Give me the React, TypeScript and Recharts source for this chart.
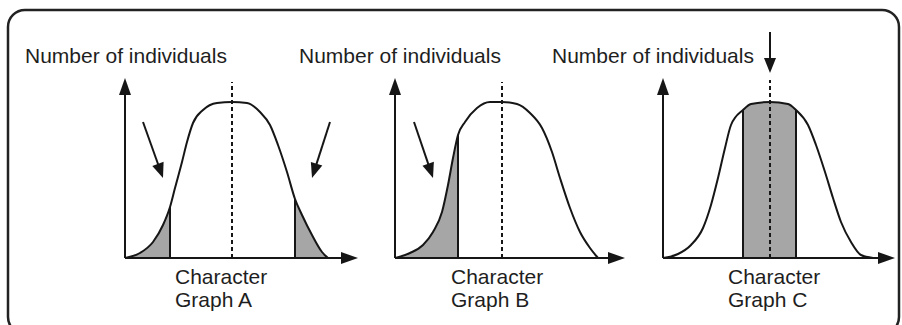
import React from 'react';
import { ComposedChart, Line, Area, XAxis, YAxis, ReferenceLine } from 'recharts';

type Pt = { x: number; y: number };

// Curves: x = character, y = number of individuals (arbitrary units)
const curveA: Pt[] = [
  { x: 0, y: 0 }, { x: 15, y: 5 }, { x: 28, y: 16 }, { x: 38, y: 33 }, { x: 45, y: 51 },
  { x: 50, y: 70 }, { x: 57, y: 96 }, { x: 62, y: 116 }, { x: 68, y: 135 }, { x: 78, y: 148 },
  { x: 92, y: 155 }, { x: 107, y: 156 }, { x: 122, y: 155 }, { x: 135, y: 146 }, { x: 145, y: 133 },
  { x: 153, y: 113 }, { x: 162, y: 86 }, { x: 170, y: 59 }, { x: 177, y: 43 }, { x: 187, y: 23 },
  { x: 197, y: 6 }, { x: 203, y: 0 },
];
const curveB: Pt[] = [
  { x: 0, y: 0 }, { x: 15, y: 5 }, { x: 28, y: 13 }, { x: 38, y: 26 }, { x: 47, y: 46 },
  { x: 53, y: 73 }, { x: 58, y: 100 }, { x: 63, y: 123 }, { x: 70, y: 136 }, { x: 82, y: 150 },
  { x: 95, y: 156 }, { x: 107, y: 156 }, { x: 122, y: 154 }, { x: 135, y: 145 }, { x: 147, y: 130 },
  { x: 157, y: 106 }, { x: 165, y: 80 }, { x: 175, y: 50 }, { x: 185, y: 26 }, { x: 195, y: 10 },
  { x: 203, y: 0 },
];
const curveC: Pt[] = [
  { x: 0, y: 0 }, { x: 15, y: 4 }, { x: 28, y: 13 }, { x: 40, y: 30 }, { x: 48, y: 53 },
  { x: 55, y: 80 }, { x: 62, y: 110 }, { x: 68, y: 133 }, { x: 80, y: 148 }, { x: 88, y: 154 },
  { x: 107, y: 156 }, { x: 125, y: 154 }, { x: 133, y: 148 }, { x: 145, y: 133 }, { x: 153, y: 113 },
  { x: 162, y: 86 }, { x: 170, y: 60 }, { x: 178, y: 36 }, { x: 188, y: 16 }, { x: 198, y: 3 },
  { x: 210, y: 0 },
];

// Shaded character ranges [from, to]
const shadesA: [number, number][] = [[0, 45], [170, 203]];
const shadesB: [number, number][] = [[0, 63]];
const shadesC: [number, number][] = [[80, 133]];

// Mean of each distribution (dashed line) and the top of the dashed line
const meanValue = 107;
const dashTops = [176, 176, 178];

// Axis extents
const yAxisTop = 180;
const xAxisEnds = [233, 230, 232];

// Pointer arrows (from -> to) in chart units
const pointersA: [Pt, Pt][] = [
  [{ x: 18, y: 136 }, { x: 38, y: 80 }],
  [{ x: 205, y: 136 }, { x: 187, y: 80 }],
];
const pointersB: [Pt, Pt][] = [[{ x: 19, y: 136 }, { x: 38, y: 80 }]];
const pointersC: [Pt, Pt][] = [[{ x: 107, y: 226 }, { x: 107, y: 185 }]];

const yLabel = 'Number of individuals';
const xLabel = 'Character';
const graphNames = ['Graph A', 'Graph B', 'Graph C'];

// ---- layout / styles ----
const W = 902;
const H = 325;
const FONT = '"Liberation Sans", Arial, sans-serif';
const INK = '#161616';
const SHADE = '#a6a6a6';
const origins = [125, 395, 663];
const topLabelX = [25, 299, 552];
const bottomLabelX = [175, 451, 728];

const arrowShape = (len: number, hw: number) => (p: any) => {
  const x1 = Number(p.x1), y1 = Number(p.y1), x2 = Number(p.x2), y2 = Number(p.y2);
  const dx = x2 - x1, dy = y2 - y1;
  const L = Math.hypot(dx, dy) || 1;
  const ux = dx / L, uy = dy / L;
  const bx = x2 - ux * len, by = y2 - uy * len;
  const px = -uy, py = ux;
  return (
    <g>
      <line x1={x1} y1={y1} x2={bx + ux * 2} y2={by + uy * 2} stroke={p.stroke} strokeWidth={p.strokeWidth} />
      <polygon
        points={`${x2},${y2} ${bx + px * hw},${by + py * hw} ${bx - px * hw},${by - py * hw}`}
        fill={p.stroke}
      />
    </g>
  );
};

const yAt = (curve: Pt[], x: number) => {
  const f = curve.find((p) => p.x === x);
  return f ? f.y : 0;
};

type GraphProps = {
  curve: Pt[];
  shades: [number, number][];
  pointers: [Pt, Pt][];
  axisEnd: number;
  dashTop: number;
  left: number;
};

function Graph({ curve, shades, pointers, axisEnd, dashTop, left }: GraphProps) {
  const margin = { top: 18, bottom: 67, left, right: W - left - 236 };
  const edges: number[] = [];
  shades.forEach(([a, b]) => {
    if (yAt(curve, a) > 0) edges.push(a);
    if (yAt(curve, b) > 0) edges.push(b);
  });
  return (
    <div style={{ position: 'absolute', left: 0, top: 0 }}>
      <ComposedChart width={W} height={H} margin={margin}>
        <XAxis type="number" dataKey="x" domain={[0, 236]} hide allowDataOverflow />
        <YAxis type="number" domain={[0, 240]} hide allowDataOverflow />
        {shades.map(([a, b], i) => (
          <Area
            key={'s' + i}
            data={curve.filter((p) => p.x >= a && p.x <= b)}
            dataKey="y"
            type="monotone"
            stroke="none"
            fill={SHADE}
            fillOpacity={1}
            isAnimationActive={false}
          />
        ))}
        <Line
          data={curve}
          dataKey="y"
          type="monotone"
          stroke={INK}
          strokeWidth={2}
          dot={false}
          activeDot={false}
          isAnimationActive={false}
        />
        {edges.map((x, i) => (
          <ReferenceLine
            key={'e' + i}
            segment={[{ x, y: 0 }, { x, y: yAt(curve, x) }]}
            stroke={INK}
            strokeWidth={2}
          />
        ))}
        <ReferenceLine
          segment={[{ x: meanValue, y: 0 }, { x: meanValue, y: dashTop }]}
          stroke={INK}
          strokeWidth={2}
          strokeDasharray="4 3"
        />
        <ReferenceLine
          segment={[{ x: 0, y: 0 }, { x: 0, y: yAxisTop }]}
          stroke={INK}
          strokeWidth={2}
          shape={arrowShape(17, 6)}
        />
        <ReferenceLine
          segment={[{ x: 0, y: 0 }, { x: axisEnd, y: 0 }]}
          stroke={INK}
          strokeWidth={2}
          shape={arrowShape(17, 6)}
        />
        {pointers.map(([a, b], i) => (
          <ReferenceLine
            key={'p' + i}
            segment={[a, b]}
            stroke={INK}
            strokeWidth={2}
            shape={arrowShape(15, 6)}
          />
        ))}
      </ComposedChart>
    </div>
  );
}

export default function App() {
  const curves = [curveA, curveB, curveC];
  const shades = [shadesA, shadesB, shadesC];
  const pointers = [pointersA, pointersB, pointersC];
  return (
    <div style={{ position: 'absolute', left: 0, top: 0, width: W, height: H, background: '#fff', overflow: 'hidden' }}>
      {curves.map((c, i) => (
        <Graph
          key={i}
          curve={c}
          shades={shades[i]}
          pointers={pointers[i]}
          axisEnd={xAxisEnds[i]}
          dashTop={dashTops[i]}
          left={origins[i]}
        />
      ))}
      <svg width={W} height={H} style={{ position: 'absolute', left: 0, top: 0 }}>
        <rect x={8} y={10} width={891} height={324} rx={17} ry={17} fill="none" stroke="#222" strokeWidth={2.5} />
        {topLabelX.map((x, i) => (
          <text key={'t' + i} x={x} y={63} fontFamily={FONT} fontSize={21} fill="#1e1e1e">
            {yLabel}
          </text>
        ))}
        {bottomLabelX.map((x, i) => (
          <g key={'b' + i}>
            <text x={x} y={284} fontFamily={FONT} fontSize={21} fill="#1e1e1e">
              {xLabel}
            </text>
            <text x={x} y={307} fontFamily={FONT} fontSize={21} fill="#1e1e1e">
              {graphNames[i]}
            </text>
          </g>
        ))}
      </svg>
    </div>
  );
}
